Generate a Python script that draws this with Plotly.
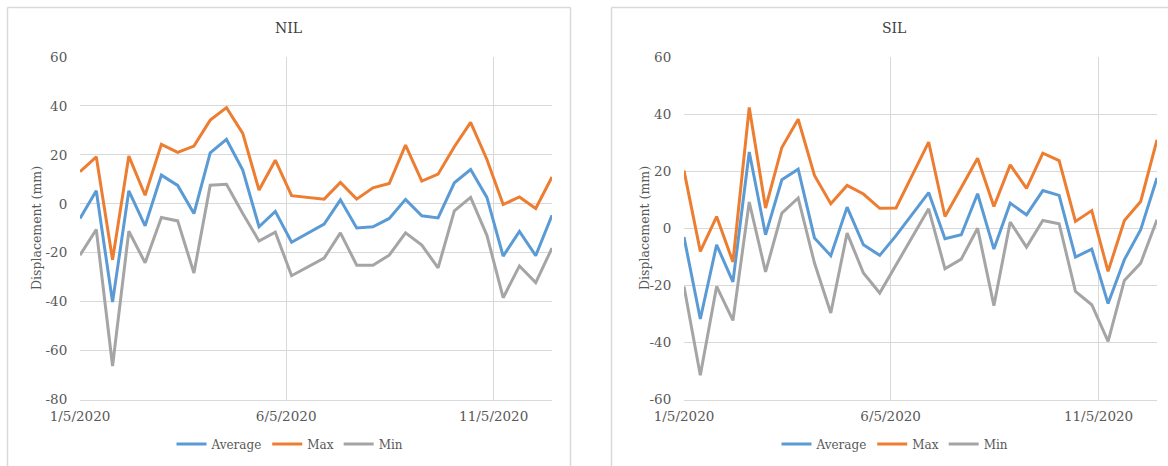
import plotly.graph_objects as go

W, H = 1168, 466

dates = ["2020-01-05", "2020-01-17", "2020-01-29", "2020-02-10", "2020-02-22",
         "2020-03-05", "2020-03-17", "2020-03-29", "2020-04-10", "2020-04-22",
         "2020-05-04", "2020-05-16", "2020-05-28", "2020-06-09",
         "2020-07-03", "2020-07-15", "2020-07-27", "2020-08-08", "2020-08-20",
         "2020-09-01", "2020-09-13", "2020-09-25", "2020-10-07", "2020-10-19",
         "2020-10-31", "2020-11-12", "2020-11-24", "2020-12-06", "2020-12-18"]

nil_avg = [-6, 5.3, -40.2, 5.3, -9, 11.7, 7.5, -4, 20.8, 26.3, 13.8, -9.4, -3.1, -15.7,
           -8.3, 1.6, -9.9, -9.4, -6, 1.8, -4.9, -5.8, 8.6, 14, 2.6, -21.4, -11.3, -21.2, -4.7]
nil_max = [13.1, 19.2, -22.9, 19.5, 3.5, 24.3, 21, 23.6, 34.2, 39.3, 28.8, 5.6, 17.8, 3.3,
           1.9, 8.7, 1.9, 6.5, 8.3, 24, 9.3, 12.1, 23.3, 33.3, 18.1, -0.3, 2.8, -1.9, 11]
nil_min = [-21, -10.5, -66.3, -11.2, -24.1, -5.6, -7, -28.3, 7.6, 8, -4, -15.2, -11.6, -29.4,
           -22.2, -11.9, -25.1, -25.1, -21, -11.9, -16.9, -26.2, -2.9, 2.6, -12.9, -38.4, -25.4, -32.2, -18.1]

sil_avg = [-3.1, -31.8, -5.8, -18.8, 26.7, -2.3, 17, 20.7, -3.4, -9.6, 7.4, -5.8, -9.5, -2.6,
           12.5, -3.7, -2.3, 12.1, -7.3, 8.8, 4.7, 13.2, 11.5, -10.1, -7.3, -26.4, -11, -0.5, 17.6]
sil_max = [20.2, -8.1, 4.1, -11.8, 42.3, 7.1, 28.3, 38.2, 18.5, 8.6, 15, 12, 7, 7.1,
           30.2, 4.1, 14.3, 24.5, 7.6, 22.2, 14, 26.3, 23.7, 2.4, 6.2, -15.1, 2.7, 9.4, 31]
sil_min = [-20.4, -51.5, -20.4, -32.3, 9.2, -15.3, 5.3, 10.6, -12.2, -29.7, -1.7, -15.7, -22.7, -13,
           6.8, -14.2, -10.8, 0, -27.1, 2.2, -6.6, 2.7, 1.6, -22.1, -26.8, -39.6, -18.3, -12.2, 3]

x_tick_vals = ["2020-01-05", "2020-06-05", "2020-11-05"]
x_tick_text = ["1/5/2020", "6/5/2020", "11/5/2020"]
nil_y_ticks = [-80, -60, -40, -20, 0, 20, 40, 60]
sil_y_ticks = [-60, -40, -20, 0, 20, 40, 60]
series_names = ["Average", "Max", "Min"]
colors = ["#5B9BD5", "#ED7D31", "#A5A5A5"]

FONT = "DejaVu Serif"
TXT = "#595959"
GRID = "#d9d9d9"

fig = go.Figure()
for name, col, ys in zip(series_names, colors, [nil_avg, nil_max, nil_min]):
    fig.add_trace(go.Scatter(x=dates, y=ys, name=name, mode="lines",
                             line=dict(color=col, width=3), xaxis="x", yaxis="y",
                             legend="legend"))
for name, col, ys in zip(series_names, colors, [sil_avg, sil_max, sil_min]):
    fig.add_trace(go.Scatter(x=dates, y=ys, name=name, mode="lines",
                             line=dict(color=col, width=3), xaxis="x2", yaxis="y2",
                             legend="legend2"))

y_top = 1 - 57 / H
y_bot = 1 - 399.5 / H

xcommon = dict(type="date", range=[dates[0], dates[-1]], tickvals=x_tick_vals, ticktext=x_tick_text,
               showgrid=True, gridcolor=GRID, gridwidth=1, zeroline=False, showline=True,
               linecolor=GRID, linewidth=1, ticks="outside", ticklen=4, automargin=False,
               tickcolor="rgba(0,0,0,0)", tickfont=dict(family=FONT, size=13.5, color=TXT))
ycommon = dict(showgrid=True, gridcolor=GRID, gridwidth=1, zeroline=False, showline=False,
               ticks="outside", ticklen=9, tickcolor="rgba(0,0,0,0)", automargin=False,
               tickfont=dict(family=FONT, size=13.5, color=TXT), domain=[y_bot, y_top])

fig.update_layout(
    template="none",
    width=W, height=H, margin=dict(l=0, r=0, t=0, b=0, pad=0), autosize=False,
    paper_bgcolor="white", plot_bgcolor="white",
    xaxis=dict(domain=[80 / W, 552 / W], anchor="y", **xcommon),
    yaxis=dict(range=[-80, 60], tickvals=nil_y_ticks, ticktext=[str(v) for v in nil_y_ticks],
               anchor="x", **ycommon),
    xaxis2=dict(domain=[684 / W, 1157 / W], anchor="y2", **xcommon),
    yaxis2=dict(range=[-60, 60], tickvals=sil_y_ticks, ticktext=[str(v) for v in sil_y_ticks],
                anchor="x2", **ycommon),
    legend=dict(orientation="h", x=290 / W, y=1 - 444 / H, xanchor="center", yanchor="middle",
                font=dict(family=FONT, size=12, color=TXT), bgcolor="rgba(0,0,0,0)",
                itemwidth=30, tracegroupgap=0),
    legend2=dict(orientation="h", x=895 / W, y=1 - 444 / H, xanchor="center", yanchor="middle",
                 font=dict(family=FONT, size=12, color=TXT), bgcolor="rgba(0,0,0,0)",
                 itemwidth=30, tracegroupgap=0),
    showlegend=True,
)

# panel borders (top / left / right edges, as in the reference)
def edge(x0, y0, x1, y1):
    fig.add_shape(type="line", xref="paper", yref="paper", x0=x0 / W, x1=x1 / W,
                  y0=1 - y0 / H, y1=1 - y1 / H, line=dict(color=GRID, width=1.5), layer="below")

edge(7.5, 7.5, 570.5, 7.5)
edge(7.5, 7.5, 7.5, 466)
edge(570.5, 7.5, 570.5, 466)
edge(611.5, 7.5, 1168, 7.5)
edge(611.5, 7.5, 611.5, 466)

# titles
for txt, cx in [("NIL", 288), ("SIL", 893.5)]:
    fig.add_annotation(text=txt, xref="paper", yref="paper", x=cx / W, y=1 - 28 / H,
                       xanchor="center", yanchor="middle", showarrow=False,
                       font=dict(family=FONT, size=14, color="#404040"))
# y-axis titles
for cx in [36, 644]:
    fig.add_annotation(text="Displacement (mm)", xref="paper", yref="paper", x=cx / W,
                       y=1 - 228 / H, xanchor="center", yanchor="middle", showarrow=False,
                       textangle=-90, font=dict(family=FONT, size=12.5, color=TXT))

fig.write_html("out.html", config={"displayModeBar": False},
               post_script="document.body.style.margin='0';document.body.style.overflow='hidden';")
